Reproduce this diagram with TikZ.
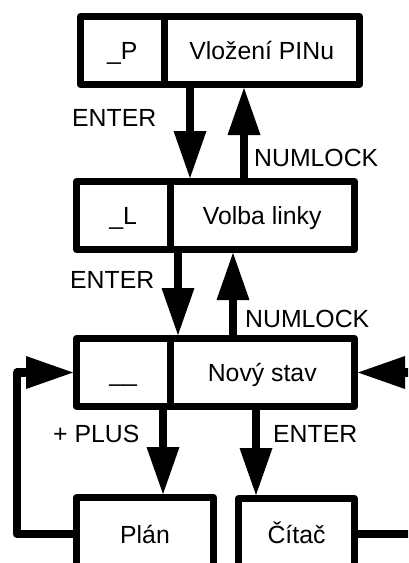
\documentclass[tikz,border=0pt]{standalone}
\usepackage{fontspec}
\setmainfont{Liberation Sans}
\usetikzlibrary{arrows.meta}
\begin{document}
\begin{tikzpicture}[x=1pt,y=-1pt]
\tikzstyle{every node}+=[inner sep=0pt,font=\fontsize{24.8}{30}\selectfont]
\tikzstyle{cell}=[draw=black,line width=7pt,line join=round,minimum height=68pt,text height=18pt,text depth=0pt]
\tikzstyle{key}=[black,line width=8.5pt,line join=round,-{Triangle[width=33pt,length=47pt,line width=0pt]}]
\useasboundingbox (0,0) rectangle (408,563);
\clip (0,0) rectangle (408,563);
\node [cell,minimum width=83.5pt] (pinkey) at (122.25,50.5) {\_P};
\node [cell,minimum width=195.5pt] (pinname) at (261.75,50.5) {Vložení PINu};
\node [cell,minimum width=93.5pt] (linekey) at (123.25,215.5) {\_L};
\node [cell,minimum width=184.5pt] (linename) at (262.25,215.5) {Volba linky};
\node [cell,minimum width=93.5pt] (statekey) at (123.25,372.5) {\_\_};
\node [cell,minimum width=184.5pt] (statename) at (262.25,372.5) {Nový stav};
\node [cell,minimum width=137pt,minimum height=73pt] (plan) at (145,534) {Plán};
\node [cell,minimum width=116pt,minimum height=71pt] (counter) at (296.5,534) {Čítač};
\draw [key] (190,0 |- pinname.south) -- (190,0 |- linename.north);
\draw [key] (244,0 |- linename.north) -- (244,0 |- pinname.south);
\draw [key] (178,0 |- linename.south) -- (178,0 |- statename.north);
\draw [key] (233,0 |- statename.north) -- (233,0 |- linename.south);
\draw [key] (163,0 |- statekey.south) -- (163,0 |- plan.north);
\draw [key] (256,0 |- statename.south) -- (256,0 |- counter.north);
\draw [key] (plan.west) -- (17,0 |- plan.west) |- (statekey.west);
\draw [key] (counter.east) -- (413,0 |- counter.east) |- (statename.east);
\node [anchor=base west] (enter1) at (72,126) {ENTER};
\node [anchor=base west] (numlock1) at (254,166) {NUMLOCK};
\node [anchor=base west] (enter2) at (70,288) {ENTER};
\node [anchor=base west] (numlock2) at (245,327) {NUMLOCK};
\node [anchor=base west] (plus) at (53,442) {+ PLUS};
\node [anchor=base west] (enter3) at (273,442) {ENTER};
\end{tikzpicture}
\end{document}
